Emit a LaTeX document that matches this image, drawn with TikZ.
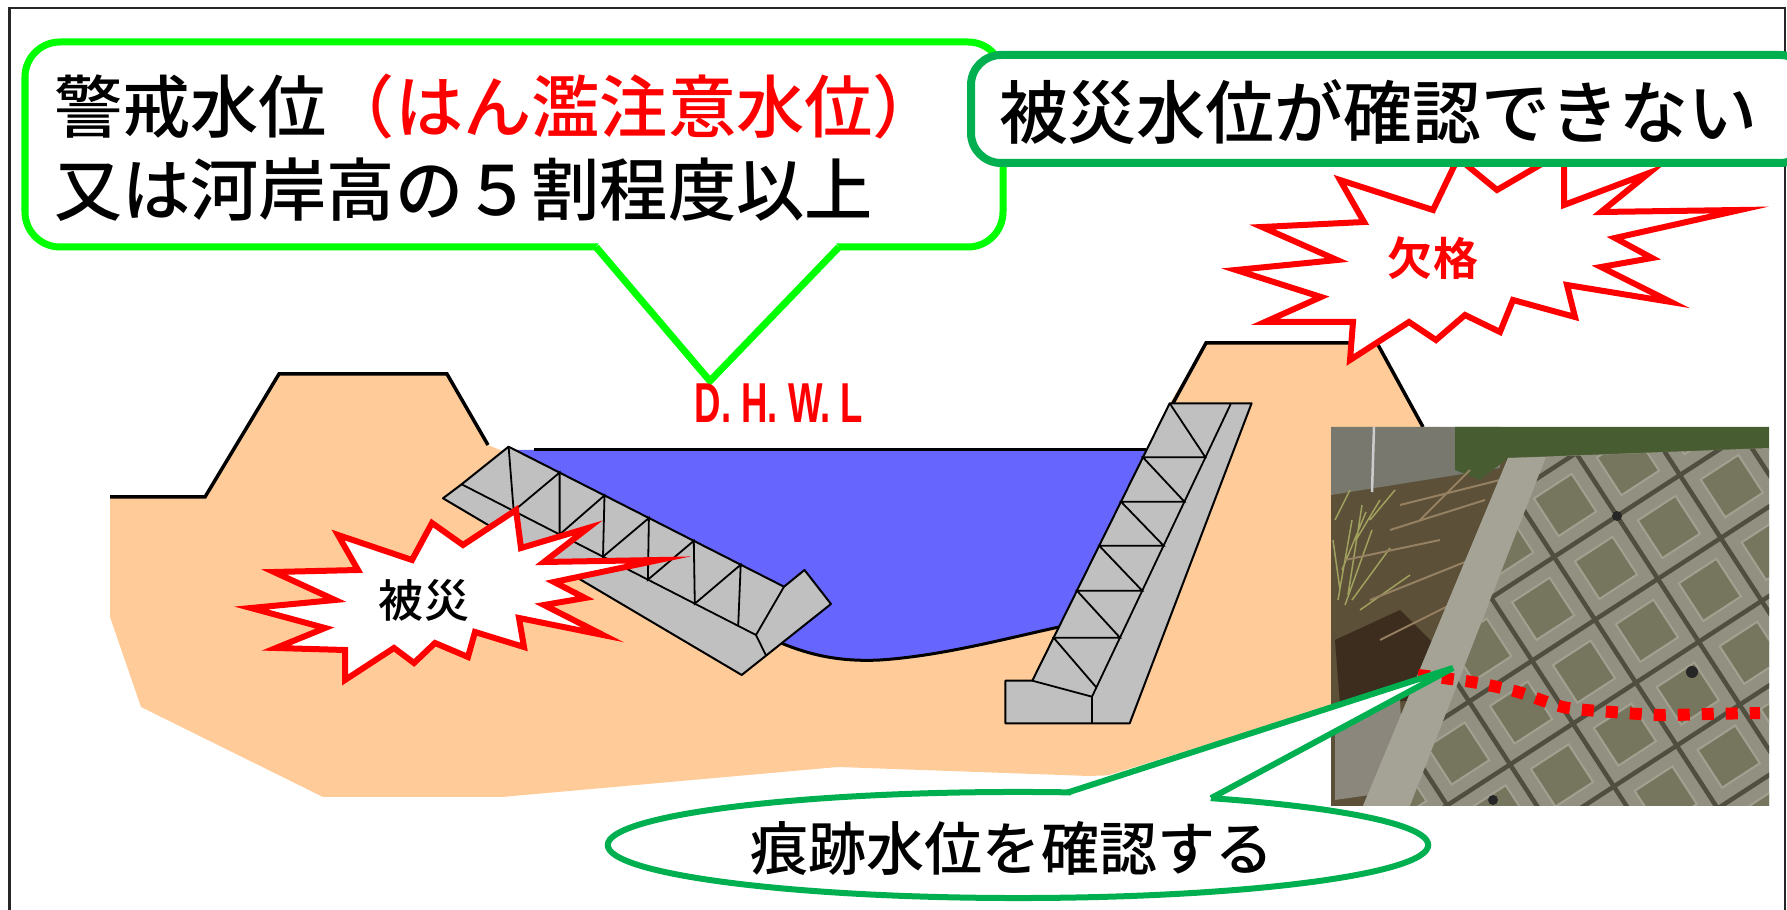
\documentclass[tikz,border=0pt]{standalone}
\usepackage{fontspec}
\setmainfont{Noto Sans CJK JP Medium}[BoldFont={Noto Sans CJK JP Bold}]
\newfontfamily\latinfont{Liberation Sans}
\usetikzlibrary{positioning}
\definecolor{peach}{RGB}{255,204,153}
\definecolor{riverblue}{RGB}{102,102,255}
\definecolor{blockgray}{RGB}{192,192,192}
\definecolor{brightgreen}{RGB}{0,255,0}
\definecolor{darkgreen}{RGB}{0,176,80}
\definecolor{photobrown}{RGB}{92,80,56}
\definecolor{wallgray}{RGB}{120,120,110}
\definecolor{leafgreen}{RGB}{72,92,50}
\definecolor{slabgray}{RGB}{146,144,128}
\definecolor{slabedge}{RGB}{165,163,150}
\definecolor{slabdark}{RGB}{80,78,62}
\definecolor{slablight}{RGB}{162,160,145}
\definecolor{panelgray}{RGB}{118,118,94}
\definecolor{darksoil}{RGB}{60,45,30}
\definecolor{pebble}{RGB}{140,135,125}
\definecolor{grassgreen}{RGB}{160,160,95}
\definecolor{stickbrown}{RGB}{150,128,98}
\newcommand\calloutfont{\fontsize{19.4pt}{24pt}\selectfont}
\newcommand\bannerfont{\fontsize{19.6pt}{24pt}\selectfont}
\newcommand\ovalfont{\fontsize{16.5pt}{20pt}\selectfont}
\newcommand\burstfont{\fontsize{12.8pt}{16pt}\selectfont}
\newcommand\levelfont{\latinfont\fontsize{16pt}{18pt}\selectfont\bfseries}

\begin{document}
\begin{tikzpicture}[x=0.01cm ,y=-0.01cm ,
    semithick ,
    ground/.style ={fill=peach},
    bank/.style ={draw=black ,line width=0.035cm},
    river/.style ={fill=riverblue},
    riverline/.style ={draw=black ,line width=0.03cm},
    block/.style ={fill=blockgray ,draw=black ,line width=0.02cm ,line join=round},
    lattice/.style ={draw=black ,line width=0.018cm},
    burst/.style ={fill=white ,draw=red ,line width=0.06cm ,miter limit=25},
    balloon/.style ={fill=white ,draw=brightgreen ,line width=0.07cm ,rounded corners=0.35cm},
    balloonline/.style ={draw=brightgreen ,line width=0.07cm},
    banner/.style ={fill=white ,draw=darkgreen ,line width=0.08cm ,rounded corners=0.3cm},
    oval/.style ={fill=white ,draw=darkgreen ,line width=0.06cm},
    ovalline/.style ={draw=darkgreen ,line width=0.06cm},
    label/.style ={inner sep=0 ,anchor=west},
    tracemark/.style ={draw=red ,line width=0.12cm ,dash pattern=on 0.12cm off 0.12cm},
    grass/.style ={draw=grassgreen ,line width=0.015cm},
    sticks/.style ={draw=stickbrown ,line width=0.02cm},
    groove/.style ={draw=slabdark ,line width=0.045cm},
    panel/.style ={fill=panelgray ,draw=slablight ,line width=0.02cm}
    ]
\useasboundingbox (0,0) rectangle (1787,910);
\draw[line width=0.025cm ,draw=black!85] (9.5,8) rectangle (1785,930);

\fill[ground] (110,497) -- (205,497) -- (279,374) -- (447,374) -- (488,445) -- (505,452) -- (1146,452)
  -- (1170,403) -- (1206,343) -- (1377,343) -- (1423,427) -- (1440,427) -- (1440,722) -- (1331,722)
  -- (1211,772) -- (1089,776) -- (838,767) -- (502,797) -- (323,797) -- (141,707) -- (110,617) -- cycle;
\fill[river] (505,450) -- (1146,450) -- (1059,627) .. controls (1000,640) and (940,656) .. (880,660)
  .. controls (840,662) and (810,655) .. (781,643) -- (700,600) -- (490,470) -- cycle;
\draw[riverline] (534,450) -- (1146,450);
\draw[riverline] (781,643) .. controls (810,655) and (840,662) .. (880,660) .. controls (940,656) and (1000,640) .. (1059,627);
\draw[bank] (110,497) -- (205,497) -- (279,374) -- (447,374) -- (488,445);
\draw[bank] (1172,405) -- (1206,343) -- (1377,343) -- (1423,427);

\draw[block] (508.6,446.7) -- (461.6,484.3) -- (443,498.3) -- (741.7,675) -- (831,604) -- (804.5,570) -- (784,586.7) -- cycle;
\draw[lattice] (461.6,484.3) -- (756,635) -- (784,586.7) (756,635) -- (766,655.5);
\draw[lattice] (508.6,446.7) -- (513.7,511) -- (559.6,472.6) -- (559.6,534.5) -- (604.5,495.4) -- (603,556.7)
  -- (648.9,518) -- (647.9,579.7) -- (693.8,540.8) -- (694.8,603.7) -- (740.7,564.7) -- (738.2,625.9);

\draw[block] (1169.7,403.3) -- (1251.6,403.3) -- (1129.7,723.3) -- (1005.4,723.3) -- (1005.4,680.7) -- (1032.3,680.7) -- cycle;
\draw[lattice] (1230.7,404) -- (1092,696.7) -- (1092,723.3) (1032.3,680.7) -- (1092,696.7);
\draw[lattice] (1169.7,403.3) -- (1205.4,457.3) -- (1142.9,457.3) -- (1184.4,501.7) -- (1121,501.7) -- (1163.6,545.7)
  -- (1099.2,545.7) -- (1142.2,590.7) -- (1076.9,590.7) -- (1120,637.7) -- (1053.6,637.7) -- (1096.4,687.5);

\draw[burst] (516,510) -- (521,548) -- (588,528) -- (544,562) -- (659,560) -- (554,582) -- (585,598) -- (544,605)
  -- (603,635) -- (519,618) -- (524,647) -- (475,632) -- (468,657) -- (435,643) -- (414,663) -- (394,648)
  -- (345,680) -- (345,650) -- (276,648) -- (325,628) -- (251,608) -- (335,600) -- (274,572) -- (358,570)
  -- (338,535) -- (412,560) -- (432,523) -- (463,545) -- cycle;
\node (hisai) [font=\burstfont] at (424,600) {被災};

\begin{scope}
\clip (1331,427) rectangle (1769,806);
\fill[photobrown] (1331,427) rectangle (1769,806);
\fill[wallgray] (1331,427) -- (1500,427) -- (1500,468) -- (1331,495) -- cycle;
\draw[line width=0.025cm ,draw=white!60!gray] (1374,427) -- (1372,492);
\fill[leafgreen] (1455,427) -- (1769,427) -- (1769,450) -- (1508,458) -- (1480,480) -- (1455,470) -- cycle;
\fill[darksoil] (1335,640) -- (1400,610) -- (1440,650) -- (1420,700) -- (1340,705) -- cycle;
\fill[pebble] (1335,720) -- (1400,700) -- (1405,790) -- (1335,800) -- cycle;
\draw[grass] (1338,600) -- (1352,520) (1345,605) -- (1372,530) (1352,600) -- (1390,548) (1340,590) -- (1333,540)
  (1360,610) -- (1410,575) (1348,595) -- (1362,505) (1370,520) -- (1395,490) (1356,540) -- (1380,500)
  (1335,520) -- (1350,490) (1342,570) -- (1366,512);
\draw[sticks] (1400,505) -- (1500,480) (1390,530) -- (1485,500) (1370,600) -- (1470,560) (1380,640) -- (1460,600)
  (1345,560) -- (1440,540) (1420,520) -- (1470,470);
\fill[slabgray] (1508,458) -- (1769,448) -- (1769,806) -- (1363,806) -- cycle;
\fill[slabedge] (1508,458) -- (1546,457) -- (1410,806) -- (1363,806) -- cycle;
\begin{scope}
\clip (1546,457) -- (1769,448) -- (1769,806) -- (1410,806) -- cycle;
\foreach \i in {-6,...,3} {
  \foreach \j in {-3,...,5} {
    \pgfmathsetmacro\cx{1617+\i*62.9+\j*40.9}
    \pgfmathsetmacro\cy{516-\i*40.9+\j*62.9}
    \draw[panel] (\cx+20.8,\cy+4.4) -- ++(37.7,-24.5) -- ++(24.5,37.7) -- ++(-37.7,24.5) -- cycle;
  }
}
\foreach \k in {-6,...,6} {
  \pgfmathsetmacro\gx{1617+\k*40.9}
  \pgfmathsetmacro\gy{516+\k*62.9}
  \draw[groove] (\gx-440,\gy+286) -- ++(880,-572);
  \pgfmathsetmacro\hx{1617+\k*62.9}
  \pgfmathsetmacro\hy{516-\k*40.9}
  \draw[groove] (\hx-286,\hy-440) -- ++(572,880);
}
\end{scope}
\fill[black!85] (1617,516) circle[radius=0.05cm] (1692,672) circle[radius=0.06cm] (1493,800) circle[radius=0.05cm];
\end{scope}
\draw[tracemark] plot[smooth] coordinates {(1418,675) (1472,682) (1518,692) (1563,707) (1612,712) (1660,715) (1707,714) (1760,713)};

\draw[burst] (1340,180) -- (1433,210) -- (1458,158) -- (1497,190) -- (1564,151) -- (1564,205) -- (1649,173) -- (1601,212)
  -- (1740,210) -- (1615,238) -- (1652,258) -- (1601,267) -- (1671,302) -- (1567,285) -- (1575,317) -- (1513,300)
  -- (1500,332) -- (1465,315) -- (1436,340) -- (1409,322) -- (1350,360) -- (1353,322) -- (1265,322) -- (1321,297)
  -- (1236,270) -- (1337,260) -- (1262,227) -- (1364,222) -- cycle;
\node (ketsu) [font=\burstfont\bfseries ,text=red] at (1433,258) {欠格};

\coordinate (dhwltip) at (710,381);
\draw[balloon] (25,42) rectangle (1003,247);
\fill[white] (600,242) -- (835,242) -- (839,247) -- (dhwltip) -- (596,247) -- cycle;
\draw[balloonline] (596,247) -- (dhwltip) -- (839,247);
\node (warn1) [label ,font=\calloutfont] at (53,107) {警戒水位\textcolor{red}{（はん濫注意水位）}};
\node (warn2) [below=0.83cm of warn1.west ,label ,font=\calloutfont] {又は河岸高の５割程度以上};

\draw[banner] (971,55) rectangle (1810,163);
\node (nocheck) [label ,font=\bannerfont] at (998,112) {被災水位が確認できない};

\node (dhwl) [text=red ,font=\levelfont] at (779,403) {\scalebox{0.65}[1]{D. H. W. L}};

\coordinate (tracetip) at (1453,668);
\draw[oval] (1018,845) ellipse [x radius=4.1cm ,y radius=0.53cm];
\fill[white] (1071,787) -- (tracetip) -- (1211,798) -- (1209,806) -- (1071,800) -- cycle;
\draw[ovalline] (1068,792.4) -- (tracetip) -- (1211,798.2);
\node (trace) [font=\ovalfont] at (1012,848) {痕跡水位を確認する};
\end{tikzpicture}
\end{document}
